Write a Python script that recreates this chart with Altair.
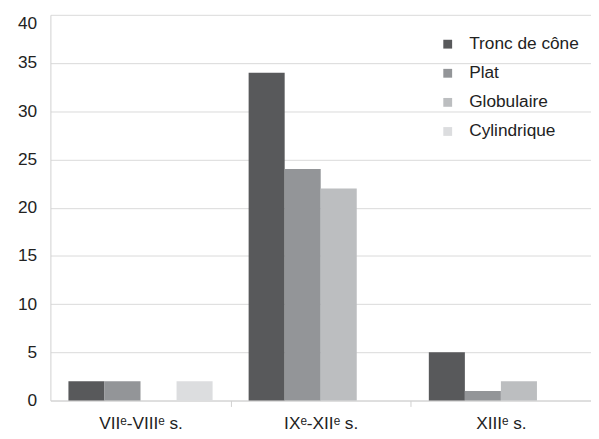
import altair as alt
import pandas as pd

periods = ["VIIᵉ-VIIIᵉ s.", "IXᵉ-XIIᵉ s.", "XIIIᵉ s."]
shapes = ["Tronc de cône", "Plat", "Globulaire", "Cylindrique"]
tronc = [2, 34, 5]
plat = [2, 24, 1]
globulaire = [0, 22, 2]
cylindrique = [2, 0, 0]
colors = ["#58595b", "#939598", "#bcbec0", "#dcdddf"]

rows = []
for s, vals in zip(shapes, [tronc, plat, globulaire, cylindrique]):
    for p, v in zip(periods, vals):
        rows.append({"period": p, "shape": s, "value": v})
df = pd.DataFrame(rows)

font = "Liberation Sans"
fs = 17.5
W = 548

chart = alt.Chart(df).mark_bar().encode(
    x=alt.X("period:N", sort=periods, title=None,
            scale=alt.Scale(paddingInner=0.2, paddingOuter=0.1),
            axis=alt.Axis(labelAngle=0, tickSize=6, tickOffset=W / 6, labelOffset=-W / 6,
                          tickColor="#d0d0d0", domainColor="#d0d0d0",
                          labelPadding=8, labelFontSize=fs, labelFont=font,
                          labelColor="#222222", grid=False)),
    xOffset=alt.XOffset("shape:N", sort=shapes, scale=alt.Scale(paddingInner=0, paddingOuter=0)),
    y=alt.Y("value:Q", title=None,
            scale=alt.Scale(domain=[0, 40]),
            axis=alt.Axis(values=[0, 5, 10, 15, 20, 25, 30, 35, 40], ticks=False,
                          domainColor="#d0d0d0", gridColor="#d9d9d9",
                          labelPadding=14, labelFontSize=fs, labelFont=font,
                          labelColor="#222222",
                          labelBaseline={"condition": {"test": "datum.value == 40", "value": "top"}, "value": "middle"})),
    color=alt.Color("shape:N", sort=shapes,
                    scale=alt.Scale(domain=shapes, range=colors),
                    legend=alt.Legend(title=None, orient="none", legendX=394, legendY=21,
                                      symbolType="square", symbolSize=80, symbolStrokeWidth=0,
                                      labelFontSize=fs, labelFont=font, labelColor="#222222",
                                      rowPadding=10.5, labelOffset=13)),
).properties(
    width=W, height=391,
    autosize=alt.AutoSizeParams(type="none"),
    padding={"left": 43, "top": 4, "right": 0, "bottom": 30},
).configure_view(stroke=None)

chart.save("out.html", embed_options={"renderer": "svg", "actions": False})
